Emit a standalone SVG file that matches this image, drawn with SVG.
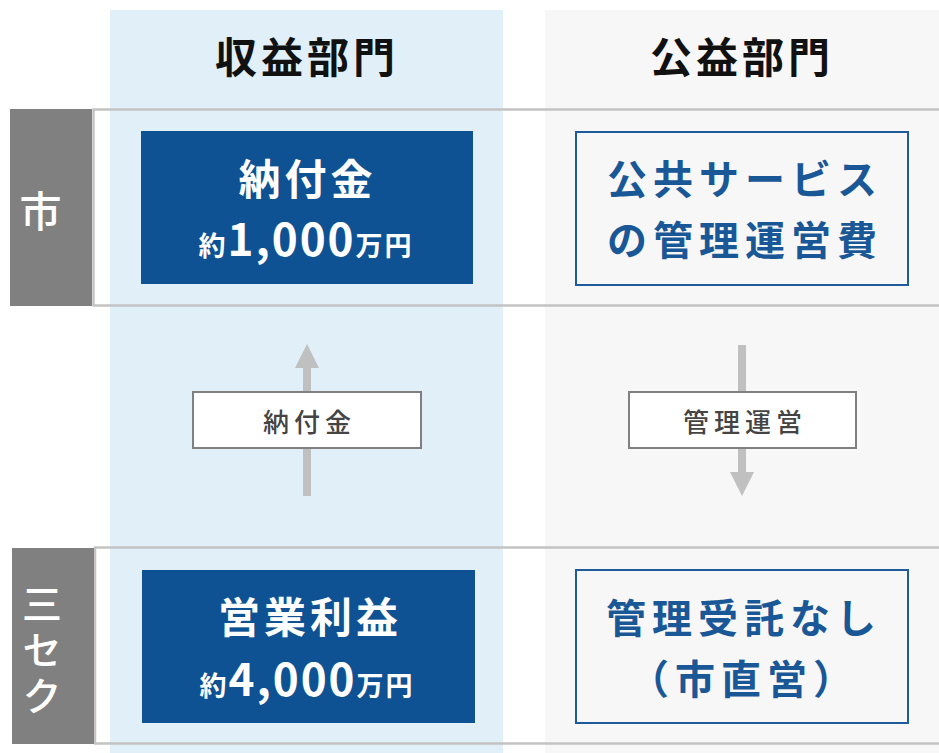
<svg xmlns="http://www.w3.org/2000/svg" width="939" height="753" viewBox="0 0 939 753">
<defs>
<style>
text{font-family:"Noto Sans CJK JP","Noto Sans",sans-serif;}
.band-rev{fill:#e1eff9;}
.band-pub{fill:#f7f7f7;}
.frame{fill:none;stroke:#c3c3c3;stroke-width:2.5;}
.rowlab{fill:#808080;}
.rowtxt{fill:#ffffff;font-size:42px;font-weight:500;text-anchor:middle;}
.vtxt{fill:#ffffff;font-size:40px;font-weight:500;writing-mode:vertical-rl;letter-spacing:6px;}
.head{fill:#111111;font-size:42px;font-weight:700;letter-spacing:4px;text-anchor:middle;}
.dark{fill:#0e5293;}
.darktxt{fill:#ffffff;font-weight:700;text-anchor:middle;}
.outline{fill:#f7f7f7;stroke:#1d5b9b;stroke-width:2;}
.bluetxt{fill:#1a5796;font-size:40px;font-weight:700;letter-spacing:6px;text-anchor:middle;}
.lab{fill:#ffffff;stroke:#808080;stroke-width:2;}
.labtxt{fill:#444444;font-size:26px;font-weight:500;letter-spacing:5px;text-anchor:middle;}
.arrow{stroke:#c0c0c0;stroke-width:8;fill:none;}
</style>
<marker id="ah" viewBox="0 0 10 10" refX="0" refY="5" markerWidth="3" markerHeight="3" orient="auto" markerUnits="strokeWidth">
<path d="M0,0 L10,5 L0,10 z" fill="#c0c0c0"/>
</marker>
</defs>
<rect width="939" height="753" fill="#ffffff"/>
<g id="bands">
<rect class="band-rev" x="110" y="10" width="393" height="743"/>
<rect class="band-pub" x="545" y="10" width="394" height="743"/>
</g>
<g id="frames">
<rect class="frame" x="93.5" y="109.5" width="860" height="196"/>
<rect class="frame" x="95" y="547.5" width="860" height="196"/>
</g>
<g id="header-revenue"><text class="head" x="307" y="73">収益部門</text></g>
<g id="header-public"><text class="head" x="742" y="73">公益部門</text></g>
<g id="row-city">
<rect class="rowlab" x="10" y="109" width="82" height="197"/>
<text class="rowtxt" x="40.5" y="227">市</text>
</g>
<g id="row-3sec">
<rect class="rowlab" x="12" y="548" width="82" height="196"/>
<text class="vtxt" x="42" y="584">三セク</text>
</g>
<g id="node-noufukin">
<rect class="dark" x="141" y="131" width="332" height="153"/>
<text class="darktxt" x="307.5" y="195" style="font-size:42px;letter-spacing:4px">納付金</text>
<text class="darktxt" x="306" y="256" style="letter-spacing:2px"><tspan style="font-size:27px">約</tspan><tspan style="font-size:44px">1,000</tspan><tspan style="font-size:27px">万円</tspan></text>
</g>
<g id="node-public-cost">
<rect class="outline" x="576" y="132" width="332" height="153"/>
<text class="bluetxt" x="745" y="194">公共サービス</text>
<text class="bluetxt" x="745" y="255">の管理運営費</text>
</g>
<g id="node-eigyo">
<rect class="dark" x="142" y="570" width="333" height="153"/>
<text class="darktxt" x="310" y="633" style="font-size:42px;letter-spacing:4px">営業利益</text>
<text class="darktxt" x="307" y="696" style="letter-spacing:2px"><tspan style="font-size:27px">約</tspan><tspan style="font-size:44px">4,000</tspan><tspan style="font-size:27px">万円</tspan></text>
</g>
<g id="node-direct">
<rect class="outline" x="576" y="570" width="332" height="153"/>
<text class="bluetxt" x="744" y="633">管理受託なし</text>
<text class="bluetxt" x="744" y="694">（市直営）</text>
</g>
<g id="connectors">
<line class="arrow" x1="307" y1="496" x2="307" y2="368" marker-end="url(#ah)"/>
<line class="arrow" x1="742" y1="345" x2="742" y2="472" marker-end="url(#ah)"/>
<g id="label-noufukin">
<rect class="lab" x="193" y="392" width="228" height="56"/>
<text class="labtxt" x="309.5" y="432">納付金</text>
</g>
<g id="label-kanri">
<rect class="lab" x="629" y="392" width="227" height="56"/>
<text class="labtxt" x="745" y="432">管理運営</text>
</g>
</g>
</svg>
